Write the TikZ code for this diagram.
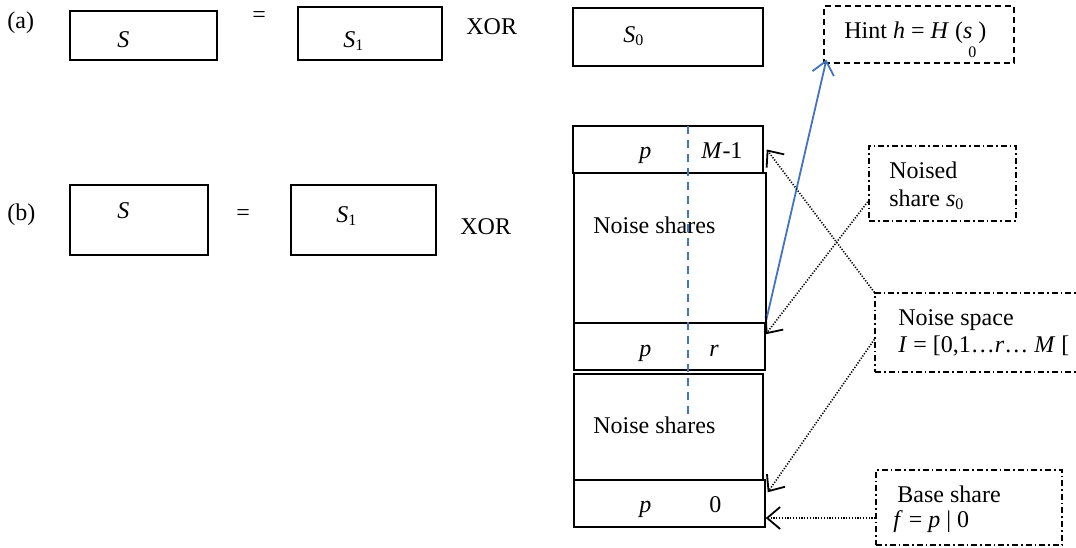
\documentclass[tikz,border=0pt]{standalone}
\usepackage{fontspec}
\setmainfont{Liberation Serif}
\usetikzlibrary{fit,calc,arrows.meta}
\definecolor{lineblue}{RGB}{68,114,196}
\tikzset{
  every node/.style={font=\fontsize{12}{14}\selectfont},
  box/.style={draw, line width=0.75pt, inner sep=0pt},
  hintbox/.style={draw, line width=0.6pt, inner sep=0pt, dash pattern=on 3pt off 2pt},
  notebox/.style={draw, line width=0.6pt, inner sep=0pt, dash pattern=on 3pt off 1.5pt on 0.8pt off 1.5pt},
  txt/.style={anchor=base west, inner sep=0pt},
  tip/.style={-{Straight Barb[length=6.5pt,width=11pt,line width=0.9pt]}},
  dotarrow/.style={tip, line width=0.8pt, dash pattern=on 0.6pt off 0.8pt},
  bluearrow/.style={tip, draw=lineblue, line width=0.9pt},
}
\begin{document}
\begin{tikzpicture}[x=0.5pt,y=-0.5pt]
\clip (0,0) rectangle (1076,547);
\fill[white] (0,0) rectangle (1076,547);

% (a)
\node[txt] (la) at (7,28) {(a)};
\node[box, fit={(70,11) (217,60)}] (Sa) {};
\node[txt] at (117,47) {\textit{S}};
\node[txt] (eqa) at (252,22) {=};
\node[box, fit={(298,7) (442,60)}] (S1a) {};
\node[txt] at (343,47) {\textit{S}\textsubscript{1}};
\node[txt] (xora) at (466,34) {XOR};
\node[box, fit={(573,8) (763,66)}] (S0a) {};
\node[txt] at (623,42) {\textit{S}\textsubscript{0}};
\node[hintbox, fit={(824,6) (1014,63)}] (hint) {};
\node[txt] at (844,38) {Hint \textit{h} = \textit{H} (\textit{s}};
\node[txt] at (978,38) {)};
\node[txt, font=\fontsize{8}{9}\selectfont] at (968,57) {0};

% (b)
\node[txt] (lb) at (7,220) {(b)};
\node[box, fit={(70,185) (208,255)}] (Sb) {};
\node[txt] at (117,218) {\textit{S}};
\node[txt] (eqb) at (236,220) {=};
\node[box, fit={(291,185) (436,255)}] (S1b) {};
\node[txt] at (336,222) {\textit{S}\textsubscript{1}};
\node[txt] (xorb) at (460,234) {XOR};

% stack
\node[box, fit={(573,126) (763,173)}] (top) {};
\node[txt] at (639,158) {\textit{p}};
\node[txt] at (701,158) {\textit{M}-1};
\node[box, fit={(574,173) (766,323)}] (ns1) {};
\node[txt] at (593,233) {Noise shares};
\node[box, fit={(574,323) (765,370)}] (pr) {};
\node[txt] at (639,356) {\textit{p}};
\node[txt] at (709,356) {\textit{r}};
\node[box, fit={(574,374) (763,480)}] (ns2) {};
\node[txt] at (593,433) {Noise shares};
\node[box, fit={(574,480) (765,527)}] (p0) {};
\node[txt] at (639,512) {\textit{p}};
\node[txt] at (709,512) {0};

\draw[lineblue, line width=0.7pt, dash pattern=on 4pt off 3pt] (688,126) -- (688,417);

% notes
\node[notebox, fit={(869,146) (1016,221)}] (noised) {};
\node[txt] at (889,178) {Noised};
\node[txt] at (889,206) {share \textit{s}\textsubscript{0}};
\node[notebox, fit={(875,293) (1090,372)}] (nspace) {};
\node[txt] at (898,325) {Noise space};
\node[txt] at (898,352) {\textit{I} = [0,1…\textit{r}… \textit{M} [};
\node[notebox, fit={(876,470) (1062,545)}] (base) {};
\node[txt] at (897,502) {Base share};
\node[txt] at (893,527) {\textit{f} = \textit{p} | 0};

% connectors
\draw[bluearrow] (pr.north east) -- ($(hint.south west)+(3,-4)$);
\draw[dotarrow] (nspace.north west) -- ($(top.east)+(3,0)$);
\draw[dotarrow] ($(noised.south west)+(1,-22)$) -- ($(pr.north east)+(0,12)$);
\draw[dotarrow] ($(nspace.north west)+(0,47)$) -- ($(p0.north east)+(2,13)$);
\coordinate (bs) at ($(base.west)+(0,10.5)$);
\draw[dotarrow] (bs) -- (p0.east |- bs);
\end{tikzpicture}
\end{document}
